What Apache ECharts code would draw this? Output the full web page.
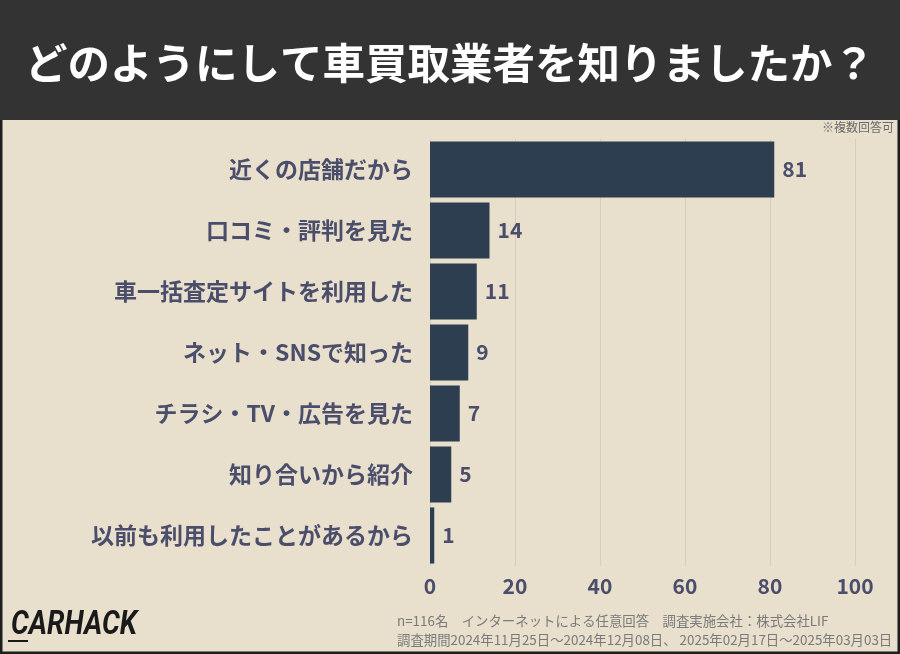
<!DOCTYPE html>
<html>
<head>
<meta charset="utf-8">
<script src="https://cdn.jsdelivr.net/npm/echarts@6/dist/echarts.min.js"></script>
<style>
  html, body { margin: 0; padding: 0; background: #e8dfcd; }
  #main { width: 900px; height: 654px; }
</style>
</head>
<body>
<div id="main"></div>
<script>
// 回答項目（上から順）
var categories = [
  '近くの店舗だから',
  '口コミ・評判を見た',
  '車一括査定サイトを利用した',
  'ネット・SNSで知った',
  'チラシ・TV・広告を見た',
  '知り合いから紹介',
  '以前も利用したことがあるから'
]
var counts = [81, 14, 11, 9, 7, 5, 1]
var xTicks = [0, 20, 40, 60, 80, 100]

var textColor = '#4b4e6a'
var barColor = '#2c3e50'
var font = '"Noto Sans CJK JP", "Noto Sans", sans-serif'

var chart = echarts.init(document.getElementById('main'))

var option = {
  backgroundColor: '#e8dfcd',
  animation: false,
  title: {
    text: 'どのようにして車買取業者を知りましたか？',
    left: 'center',
    top: 37,
    textStyle: {
      color: '#ffffff',
      fontSize: 42.5,
      fontWeight: 'bold',
      fontFamily: font
    }
  },
  graphic: [
    // 外枠
    {
      type: 'rect', z: -1, silent: true,
      shape: { x: 1, y: 1, width: 898, height: 652 },
      style: { fill: 'none', stroke: '#1e1e1e', lineWidth: 3 }
    },
    // ヘッダー帯
    {
      type: 'rect', z: -1, silent: true,
      shape: { x: 0, y: 0, width: 900, height: 120 },
      style: { fill: '#333333' }
    },
    {
      type: 'text', right: 6, top: 121,
      style: { text: '※複数回答可', fill: '#6a6a6a', fontSize: 12, fontFamily: font }
    },
    {
      type: 'text', left: 397, top: 614,
      style: { text: 'n=116名　インターネットによる任意回答　調査実施会社：株式会社LIF', fill: '#7a7a7a', fontSize: 13.4, fontFamily: font }
    },
    {
      type: 'text', left: 397, top: 633,
      style: { text: '調査期間2024年11月25日～2024年12月08日、 2025年02月17日～2025年03月03日', fill: '#7a7a7a', fontSize: 13.4, fontFamily: font }
    },
    // ロゴ
    {
      type: 'text', x: 11, y: 609, scaleX: 0.85,
      style: { text: 'CARHACK', fill: '#1a1a1a', fontSize: 33, fontWeight: 'bold', fontStyle: 'italic', fontFamily: 'Roboto, sans-serif' }
    },
    {
      type: 'line', silent: true,
      shape: { x1: 8, y1: 641, x2: 28, y2: 641 },
      style: { stroke: '#1a1a1a', lineWidth: 2 }
    }
  ],
  grid: {
    left: 430,
    right: 45,
    top: 139,
    bottom: 88
  },
  xAxis: {
    type: 'value',
    min: 0,
    max: 100,
    interval: 20,
    axisLine: { show: false },
    axisTick: { show: false },
    axisLabel: {
      color: textColor,
      fontSize: 21,
      fontWeight: 'bold',
      fontFamily: font,
      margin: 10,
      formatter: function (v) { return xTicks.indexOf(v) >= 0 ? String(v) : '' }
    },
    splitLine: { lineStyle: { color: '#d6cdbb', width: 1 } }
  },
  yAxis: {
    type: 'category',
    inverse: true,
    data: categories,
    axisLine: { show: false },
    axisTick: { show: false },
    axisLabel: {
      color: textColor,
      fontSize: 23,
      fontWeight: 'bold',
      fontFamily: font,
      margin: 17
    }
  },
  series: [{
    type: 'bar',
    data: counts,
    barCategoryGap: '8%',
    itemStyle: { color: barColor },
    label: {
      show: true,
      position: 'right',
      distance: 8,
      color: textColor,
      fontSize: 21,
      fontWeight: 'bold',
      fontFamily: font
    }
  }]
}

chart.setOption(option)
</script>
</body>
</html>
